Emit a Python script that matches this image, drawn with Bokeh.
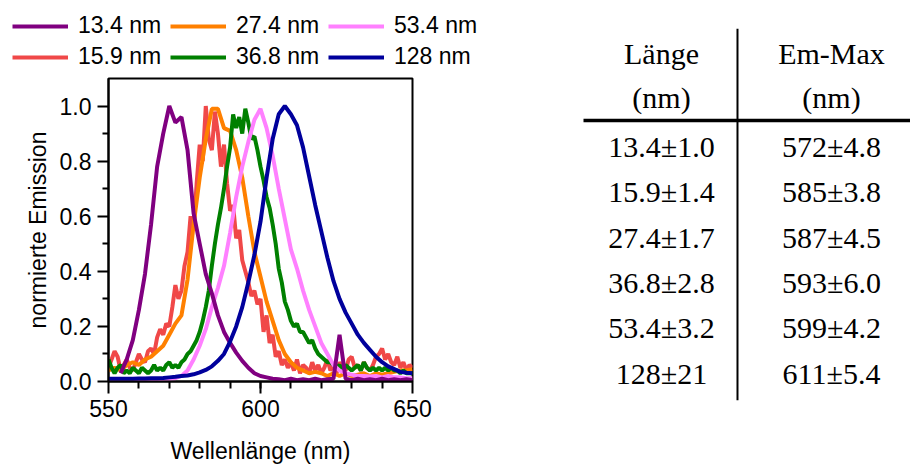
from bokeh.plotting import figure
from bokeh.models import Range1d, Legend, LegendItem, FixedTicker, PrintfTickFormatter, ColumnDataSource
from bokeh.layouts import row, column
from bokeh.embed import file_html
from bokeh.resources import INLINE
from bokeh.core.properties import value

nan = float("nan")

# ---------------- data ----------------
wavelength = list(range(550, 652, 2))      # nm, 2-nm sampling
wavelength_fine = list(range(550, 651))    # nm, 1-nm sampling

em_13_4 = [nan, nan, 0.03, 0.08, 0.15, 0.26, 0.39, 0.57, 0.78, 0.90,
           1.00, 0.94, 0.96, 0.84, 0.61, 0.50, 0.39, 0.32, 0.24, 0.18,
           0.14, 0.105, 0.075, 0.05, 0.03, 0.02, 0.015, 0.01, 0.008, 0.005,
           0.01, 0.005, 0.008, 0.005, 0.01, 0.005, 0.008, 0.01, 0.17, 0.01,
           0.005, 0.01, 0.005, 0.008, 0.005, 0.01, 0.005, 0.008, 0.005, 0.008,
           0.005]
em_15_9 = [0.05, 0.08, 0.11, 0.09, 0.04, 0.06, 0.08, 0.05, 0.04, 0.07,
           0.10, 0.08, 0.07, 0.11, 0.12, 0.10, 0.16, 0.19, 0.17, 0.21,
           0.20, 0.27, 0.35, 0.30, 0.33, 0.42, 0.47, 0.60, 0.55, 0.72,
           0.86, 0.80, 1.00, 0.88, 0.84, 0.98, 0.90, 0.78, 0.86, 0.72,
           0.62, 0.64, 0.52, 0.55, 0.44, 0.40, 0.36, 0.31, 0.33, 0.28,
           0.30, 0.18, 0.24, 0.14, 0.17, 0.09, 0.11, 0.06, 0.08, 0.05,
           0.07, 0.04, 0.08, 0.03, 0.06, 0.05, 0.03, 0.07, 0.04, 0.06,
           0.03, 0.05, 0.08, 0.04, 0.06, 0.03, 0.07, 0.05, 0.04, 0.08,
           0.09, 0.05, 0.06, 0.04, 0.07, 0.05, 0.04, 0.06, 0.09, 0.10,
           0.12, 0.08, 0.10, 0.07, 0.06, 0.09, 0.05, 0.07, 0.04, 0.06,
           0.05]
em_27_4 = [0.04, 0.05, 0.04, 0.06, 0.07, 0.06, 0.08, 0.09, 0.11, 0.13,
           0.17, 0.21, 0.24, 0.37, 0.57, 0.74, 0.88, 0.99, 0.99, 0.92,
           0.91, 0.84, 0.74, 0.60, 0.47, 0.38, 0.29, 0.22, 0.15, 0.10,
           0.07, 0.05, 0.04, 0.03, 0.035, 0.03, 0.02, 0.03, 0.02, 0.03,
           0.02, 0.025, 0.03, 0.02, 0.03, 0.025, 0.03, 0.035, 0.04, 0.04,
           0.045]
em_36_8 = [0.08, 0.05, 0.03, 0.05, 0.06, 0.03, 0.04, 0.03, 0.05, 0.04,
           0.03, 0.05, 0.04, 0.03, 0.04, 0.06, 0.04, 0.05, 0.04, 0.06,
           0.07, 0.05, 0.06, 0.05, 0.07, 0.08, 0.10, 0.11, 0.13, 0.15,
           0.18, 0.22, 0.27, 0.33, 0.42, 0.50, 0.57, 0.63, 0.70, 0.78,
           0.85, 0.97, 0.92, 0.96, 0.90, 0.99, 0.94, 0.88, 0.89, 0.84,
           0.78, 0.73, 0.67, 0.63, 0.57, 0.50, 0.41, 0.36, 0.29, 0.26,
           0.22, 0.20, 0.21, 0.18, 0.18, 0.16, 0.14, 0.15, 0.12, 0.10,
           0.09, 0.08, 0.07, 0.07, 0.06, 0.05, 0.06, 0.04, 0.06, 0.05,
           0.04, 0.05, 0.06, 0.04, 0.07, 0.05, 0.04, 0.05, 0.04, 0.05,
           0.04, 0.05, 0.04, 0.05, 0.04, 0.04, 0.03, 0.04, 0.03, 0.03,
           0.03]
em_53_4 = [0.005, 0.005, 0.005, 0.005, 0.005, 0.005, 0.006, 0.008, 0.008, 0.01,
           0.01, 0.012, 0.02, 0.04, 0.08, 0.13, 0.19, 0.27, 0.34, 0.42,
           0.54, 0.67, 0.78, 0.87, 0.95, 0.99, 0.92, 0.82, 0.70, 0.59,
           0.48, 0.41, 0.33, 0.26, 0.20, 0.14, 0.10, 0.06, 0.04, 0.03,
           0.025, 0.02, 0.02, 0.018, 0.02, 0.015, 0.02, 0.015, 0.015, 0.012,
           0.012]
em_128 = [0.01, 0.01, 0.01, 0.01, 0.01, 0.011, 0.011, 0.012, 0.012, 0.013,
          0.015, 0.017, 0.02, 0.022, 0.026, 0.033, 0.042, 0.055, 0.075, 0.10,
          0.145, 0.20, 0.27, 0.36, 0.46, 0.58, 0.74, 0.88, 0.97, 1.00,
          0.97, 0.93, 0.85, 0.745, 0.64, 0.545, 0.45, 0.365, 0.30, 0.25,
          0.21, 0.17, 0.14, 0.115, 0.09, 0.07, 0.055, 0.045, 0.035, 0.032,
          0.03]

series_labels = ["13.4 nm", "15.9 nm", "27.4 nm", "36.8 nm", "53.4 nm", "128 nm"]
series_values = [em_13_4, em_15_9, em_27_4, em_36_8, em_53_4, em_128]
series_x = [wavelength, wavelength_fine, wavelength, wavelength_fine, wavelength, wavelength]
series_colors = ["#800080", "#F04848", "#FF8000", "#008000", "#FF80FF", "#00009C"]
draw_order = [1, 2, 3, 4, 0, 5]

x_ticks = [550, 600, 650]
y_ticks = [0.0, 0.2, 0.4, 0.6, 0.8, 1.0]

table_header_1 = ["Länge", "(nm)"]
table_header_2 = ["Em-Max", "(nm)"]
table_laenge = ["13.4±1.0", "15.9±1.4", "27.4±1.7", "36.8±2.8", "53.4±3.2", "128±21"]
table_emmax = ["572±4.8", "585±3.8", "587±4.5", "593±6.0", "599±4.2", "611±5.4"]

SANS = "Liberation Sans"
FS = "23px"
LW = 4

# ---------------- legend strip ----------------
leg = figure(width=580, height=70, output_backend="svg", toolbar_location=None,
             x_range=Range1d(0, 1), y_range=Range1d(0, 1), min_border=0,
             x_axis_location=None, y_axis_location=None, frame_align=False)
leg.grid.visible = False
leg.outline_line_color = None
leg_items = []
for i in range(6):
    r = leg.line(x=[nan], y=[nan], line_color=series_colors[i], line_width=LW)
    leg_items.append(LegendItem(label=series_labels[i], renderers=[r]))
legend = Legend(items=leg_items, location=(12, 0), orientation="vertical", ncols=3,
                padding=0, margin=0, spacing=4, glyph_width=56, glyph_height=20,
                label_width=88, label_standoff=10, label_text_font=SANS, label_text_font_size=FS,
                label_text_color="black", border_line_color=None, background_fill_alpha=0)
leg.add_layout(legend)

# ---------------- spectra plot ----------------
p = figure(width=580, height=397, output_backend="svg", toolbar_location=None,
           x_range=Range1d(550, 650), y_range=Range1d(0, 1.1), frame_align=False,
           min_border_left=108, min_border_right=168, min_border_top=8, min_border_bottom=86)
p.grid.visible = False
p.outline_line_color = "black"
p.outline_line_width = 2

for i in draw_order:
    src = ColumnDataSource(dict(x=series_x[i], y=series_values[i]))
    p.line("x", "y", source=src, line_color=series_colors[i], line_width=LW)

xa = p.xaxis[0]
xa.ticker = FixedTicker(ticks=x_ticks, minor_ticks=list(range(560, 650, 10)))
xa.axis_label = "Wellenlänge (nm)"
ya = p.yaxis[0]
ya.ticker = FixedTicker(ticks=y_ticks, minor_ticks=[0.1, 0.3, 0.5, 0.7, 0.9])
ya.formatter = PrintfTickFormatter(format="%.1f")
ya.axis_label = "normierte Emission"

for ax in (xa, ya):
    ax.axis_line_color = "black"
    ax.axis_line_width = 2
    ax.major_tick_line_width = 2
    ax.minor_tick_line_width = 2
    ax.major_tick_in = 0
    ax.minor_tick_in = 0
    ax.major_label_text_font = SANS
    ax.major_label_text_font_size = FS
    ax.major_label_text_color = "black"
    ax.axis_label_text_font = SANS
    ax.axis_label_text_font_size = FS
    ax.axis_label_text_font_style = "normal"
    ax.axis_label_text_color = "black"
    ax.major_label_standoff = 6
xa.major_tick_out = 12
xa.minor_tick_out = 7
xa.axis_label_standoff = 18
ya.major_tick_out = 11
ya.minor_tick_out = 6
ya.axis_label_standoff = 6

# ---------------- table ----------------
SERIF = "Liberation Serif"
TFS = "30px"
col_px = 170.0
row_px = 45.3
t = figure(width=330, height=467, output_backend="svg", toolbar_location=None,
           x_range=Range1d(-81 / col_px, (330 - 81) / col_px),
           y_range=Range1d((467 - 146) / row_px, -146 / row_px),
           min_border=0, x_axis_location=None, y_axis_location=None, frame_align=False)
t.grid.visible = False
t.outline_line_color = None

n = len(table_laenge)
rows_idx = list(range(n))
t.text(x=[0] * n, y=rows_idx, text=table_laenge, text_font=value(SERIF), text_font_size=TFS,
       text_align="center", text_baseline="middle", text_color="black")
t.text(x=[1] * n, y=rows_idx, text=table_emmax, text_font=value(SERIF), text_font_size=TFS,
       text_align="center", text_baseline="middle", text_color="black")
hdr_rows = [-2.06, -1.08]
t.text(x=[0, 0], y=hdr_rows, text=table_header_1, text_font=value(SERIF), text_font_size=TFS,
       text_align="center", text_baseline="middle", text_color="black")
t.text(x=[1, 1], y=hdr_rows, text=table_header_2, text_font=value(SERIF), text_font_size=TFS,
       text_align="center", text_baseline="middle", text_color="black")
t.segment(x0=[-78 / col_px], y0=[-0.574], x1=[(330 - 81) / col_px], y1=[-0.574],
          line_color="black", line_width=3.5)
t.segment(x0=[0.447], y0=[-2.6], x1=[0.447], y1=[5.6], line_color="black", line_width=2)

layout = row(column(leg, p), t)
open("out.html", "w").write(file_html(layout, INLINE))
